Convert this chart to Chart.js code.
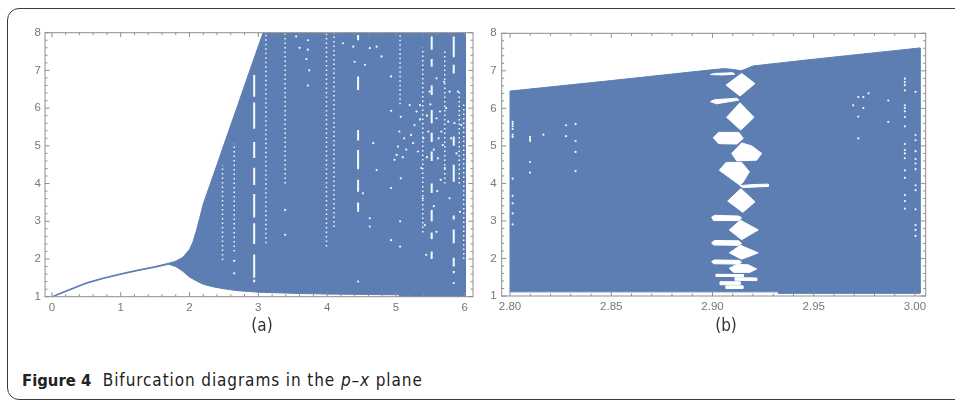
<!DOCTYPE html>
<html><head><meta charset="utf-8">
<script src="https://cdn.jsdelivr.net/npm/chart.js@4.4.1/dist/chart.umd.min.js"></script>
<style>
html,body{margin:0;padding:0;background:#fff;width:955px;height:404px;overflow:hidden;}
#card{position:absolute;left:7px;top:8px;width:1000px;height:392px;border:1.5px solid #3c3c3c;border-radius:12px;box-sizing:border-box;}
.cv{position:absolute;top:0;}
.sub{position:absolute;top:325px;transform:translate(-50%,-50%);font-family:"DejaVu Sans Condensed","Liberation Sans",sans-serif;font-size:17px;color:#333;white-space:nowrap;}
#caption{position:absolute;left:22px;top:370px;font-family:"DejaVu Sans Condensed","Liberation Sans",sans-serif;font-size:17px;line-height:20px;color:#222;white-space:nowrap;letter-spacing:0.9px;}
#caption b{font-size:16.5px;letter-spacing:0;}
</style></head>
<body>
<div id="card"></div>
<div class="cv" style="left:0;"><canvas id="ca" width="480" height="340"></canvas></div>
<div class="cv" style="left:470px;"><canvas id="cb" width="485" height="340"></canvas></div>
<div class="sub" style="left:262px;">(a)</div>
<div class="sub" style="left:726px;">(b)</div>
<div id="caption"><b>Figure 4</b>&nbsp; Bifurcation diagrams in the <i>p</i>–<i>x</i> plane</div>
<script>
// ---------- tick values / labels ----------
const xTicksA = [0, 1, 2, 3, 4, 5, 6];
const xLabelsA = ['0', '1', '2', '3', '4', '5', '6'];
const xTicksB = [2.80, 2.85, 2.90, 2.95, 3.00];
const xLabelsB = ['2.80', '2.85', '2.90', '2.95', '3.00'];
const yTicks = [1, 2, 3, 4, 5, 6, 7, 8];
const yLabels = ['1', '2', '3', '4', '5', '6', '7', '8'];

// ---------- panel (a): envelope of the attractor (p, x) ----------
const upperA = [[0,1.00],[0.1,1.08],[0.25,1.19],[0.5,1.37],[0.75,1.50],[1.0,1.61],[1.25,1.71],[1.5,1.80],[1.7,1.89],[1.8,1.94],[1.9,2.04],[2.0,2.25],[2.05,2.45],[2.1,2.75],[2.15,3.10],[2.2,3.46],[2.3,3.98],[2.4,4.50],[2.5,5.03],[2.6,5.55],[2.7,6.07],[2.8,6.60],[2.9,7.12],[3.0,7.64],[3.07,8.0],[6.01,8.0]];
const lowerA = [[6.01,1.0],[5.05,1.0],[5.05,1.05],[4.0,1.07],[3.5,1.09],[3.0,1.12],[2.7,1.16],[2.5,1.21],[2.35,1.26],[2.2,1.33],[2.1,1.42],[2.0,1.52],[1.9,1.68],[1.8,1.80],[1.7,1.86],[1.5,1.78],[1.25,1.69],[1.0,1.59],[0.75,1.48],[0.5,1.35],[0.25,1.17],[0.1,1.06],[0,0.99]];
// white gaps: dotted columns [p, xLow, xHigh]
const dottedColsA = [[2.48,1.97,4.49],[2.65,2.2,5.07],[3.11,2.42,8.0],[3.39,4.0,8.0],[3.99,2.33,8.0],[4.10,2.85,8.0],[5.06,6.1,7.95],[5.39,2.7,7.6],[5.71,4.0,7.5],[5.92,4.0,6.5],[5.985,2.0,6.1]];
// white gaps: dash segments [p, xLow, xHigh]
const dashSegA = [
 [2.94,6.30,6.88],[2.94,5.45,6.15],[2.94,4.68,5.10],[2.94,3.96,4.42],[2.94,3.10,3.72],[2.94,2.40,2.95],[2.94,1.50,2.12],[2.94,1.38,1.45],
 [4.45,7.80,7.94],[4.45,6.48,6.84],[4.45,5.14,5.42],[4.45,4.38,4.89],[4.45,3.78,4.10],[4.45,3.25,3.50],
 [5.52,7.55,7.9],[5.52,7.1,7.3],[5.52,6.35,6.6],[5.52,5.6,5.95],[5.52,5.1,5.35],[5.52,4.6,4.85],[5.52,3.75,4.0],[5.52,3.0,3.3],[5.52,2.55,2.7],[5.52,2.0,2.2],
 [5.84,7.35,7.9],[5.84,6.92,7.15],[5.84,5.0,5.25],[5.84,4.05,4.5],[5.84,3.05,3.15],[5.84,2.42,2.78],[5.84,1.80,2.03],[5.84,1.62,1.68]
];
// isolated white points [p, x]
const dotsA = [[4.45,1.40],[5.84,1.36],[3.39,2.64],[3.39,3.3],[2.65,1.95],[2.65,1.62],[3.72,7.8],[3.72,7.55],[3.70,7.3],[3.74,7.0],[3.72,6.6],[3.6,7.6],[3.55,7.9],
 [4.23,7.72],[4.38,7.63],[4.40,7.23],[4.62,7.59],[4.72,7.63],[4.79,7.37],[4.55,7.15],[4.93,6.84],[4.93,5.93],[4.93,3.88],[4.93,2.50],
 [5.20,6.08],[5.22,5.29],[5.25,5.07],[5.27,5.55],[5.30,5.91],[5.32,4.85],[5.35,6.08],[5.37,4.41],[5.39,3.61],[5.42,2.90],[5.44,2.11],[5.47,5.38],[5.49,6.44],
 [5.59,6.79],[5.59,5.73],[5.61,4.67],[5.64,5.91],[5.66,5.38],[5.68,5.02],[5.71,4.41],[5.73,6.0],[5.76,5.64],[5.78,6.44],[5.78,3.61],[5.52,2.55],[5.59,2.72],
 [4.72,4.36],[4.67,5.07],[4.52,3.74],[4.62,3.08],[4.62,2.86],[5.90,6.44],[5.95,5.55],[5.93,3.25],
 [5.03,4.98],[5.01,4.76],[4.98,4.63],[5.05,5.38],[5.07,5.77],[5.07,4.14],[5.12,5.2],[5.15,4.9],[5.1,4.7],[5.06,3.0],[5.06,2.33],
 [5.45,5.8],[5.5,6.1],[5.55,4.9],[5.62,5.2],[5.35,5.7],[5.4,5.2],[5.45,4.7],[5.55,3.4],[5.6,3.8],[5.65,4.1],[5.7,6.7],[5.8,5.2],[5.85,5.6],[5.88,4.8]];

// ---------- panel (b): zoom p in [2.80, 3.00] ----------
const regionB = [[2.80,1.11],[2.80,6.46],[2.85,6.74],[2.90,7.03],[2.906,7.06],[2.911,7.03],[2.914,7.00],[2.917,7.06],[2.920,7.13],[2.95,7.31],[3.0025,7.61],[3.0025,1.07],[2.9325,1.07],[2.9325,1.11]];
const holesB = [
 [[2.899,6.90],[2.901,6.93],[2.910,6.95],[2.911,6.91],[2.905,6.89]],
 [[2.9144,6.93],[2.9210,6.66],[2.9136,6.33],[2.9067,6.62]],
 [[2.899,6.18],[2.901,6.23],[2.912,6.27],[2.913,6.22],[2.902,6.12]],
 [[2.9136,6.15],[2.9205,5.76],[2.9140,5.42],[2.9070,5.76]],
 [[2.9004,5.22],[2.9030,5.36],[2.9130,5.36],[2.9152,5.20],[2.9120,5.05],[2.9030,5.06]],
 [[2.9144,5.08],[2.9194,5.00],[2.9243,4.80],[2.9218,4.62],[2.9120,4.60],[2.9095,4.80]],
 [[2.9067,4.56],[2.9144,4.56],[2.9182,4.31],[2.9152,4.04],[2.9136,3.95],[2.9034,4.35]],
 [[2.9136,3.94],[2.9200,3.97],[2.9276,3.98],[2.9276,3.92],[2.9150,3.89]],
 [[2.9140,3.86],[2.9210,3.51],[2.9150,3.23],[2.9075,3.53]],
 [[2.8996,3.10],[2.9010,3.15],[2.9130,3.13],[2.9144,3.08],[2.9130,3.01],[2.9005,3.01]],
 [[2.9138,3.02],[2.9226,2.76],[2.9144,2.50],[2.9083,2.76]],
 [[2.8996,2.42],[2.9010,2.48],[2.9130,2.47],[2.9144,2.40],[2.9130,2.35],[2.9005,2.36]],
 [[2.9138,2.35],[2.9226,2.15],[2.9144,1.98],[2.9083,2.15]],
 [[2.8996,1.92],[2.9010,1.96],[2.9130,1.95],[2.9144,1.90],[2.9130,1.85],[2.9005,1.86]],
 [[2.9120,1.84],[2.9177,1.83],[2.9218,1.72],[2.9185,1.63],[2.9103,1.63],[2.9083,1.74]],
 [[2.9017,1.58],[2.9152,1.57],[2.9152,1.52],[2.9017,1.52]],
 [[2.9111,1.49],[2.9218,1.48],[2.9218,1.41],[2.9111,1.42]],
 [[2.9037,1.38],[2.9136,1.38],[2.9136,1.30],[2.9037,1.30]],
 [[2.9066,1.27],[2.9150,1.27],[2.9150,1.20],[2.9066,1.20]]
];
const dotsB = [[2.8013,5.64],[2.8013,5.58],[2.8013,5.52],[2.8013,5.45],[2.8013,5.30],[2.8013,5.24],[2.8013,4.13],[2.8013,3.67],[2.8013,3.47],[2.8013,3.20],[2.8013,2.91],
 [2.8099,5.24],[2.8099,5.18],[2.8099,5.13],[2.8099,4.57],[2.8099,4.29],[2.8165,5.30],[2.8277,5.55],[2.8277,5.26],[2.8324,5.58],[2.8324,5.13],[2.8324,4.84],[2.8324,4.33],
 [2.9695,6.08],[2.972,6.30],[2.972,5.78],[2.972,5.20],[2.9745,6.30],[2.9745,6.01],[2.9771,6.40],[2.9868,6.21],[2.9868,5.64],
 [2.995,6.79],[2.995,6.70],[2.995,6.62],[2.995,6.48],[2.995,6.08],[2.995,6.01],[2.995,5.92],[2.995,5.77],[2.995,5.52],[2.995,5.05],[2.995,4.89],[2.995,4.80],[2.995,4.67],[2.995,4.35],[2.995,4.15],[2.995,3.69],[2.995,3.53],[2.995,3.33],
 [3.0003,6.44],[3.0003,5.29],[3.0003,5.15],[3.0003,4.86],[3.0003,4.65],[3.0003,4.53],[3.0003,4.38],[3.0003,3.95],[3.0003,3.82],[3.0003,3.31],[3.0003,2.89],[3.0003,2.76],[3.0003,2.60]];

// ---------- styling ----------
const BLUE = 'rgb(92,126,179)';
const GAP = '#f6f8fb';
const pts = arr => arr.map(([x, y]) => ({x, y}));
const closed = arr => pts(arr.concat([arr[0]]));

const framePlugin = {
  id: 'frame',
  afterDatasetsDraw(chart, args, o) {
    const {ctx, chartArea: a, scales: {x, y}} = chart;
    ctx.save();
    ctx.strokeStyle = '#8e8e8e';
    ctx.lineWidth = 1;
    ctx.strokeRect(a.left, a.top, a.right - a.left, a.bottom - a.top);
    ctx.beginPath();
    const near = (list, v) => list.some(t => Math.abs(t - v) < 1e-6);
    const xs = x.ticks.map(t => t.value), ys = y.ticks.map(t => t.value);
    const hx = (v, len) => { const p = x.getPixelForValue(v); ctx.moveTo(p, a.bottom); ctx.lineTo(p, a.bottom - len); ctx.moveTo(p, a.top); ctx.lineTo(p, a.top + len); };
    const hy = (v, len) => { const p = y.getPixelForValue(v); ctx.moveTo(a.left, p); ctx.lineTo(a.left + len, p); ctx.moveTo(a.right, p); ctx.lineTo(a.right - len, p); };
    xs.forEach(v => hx(v, 4.5));
    ys.forEach(v => hy(v, 4.5));
    for (let k = Math.ceil(x.min / o.xMinor - 1e-9); k * o.xMinor <= x.max + 1e-9; k++) {
      const v = k * o.xMinor; if (!near(xs, v)) hx(v, 2.5);
    }
    for (let k = Math.ceil(y.min / o.yMinor - 1e-9); k * o.yMinor <= y.max + 1e-9; k++) {
      const v = k * o.yMinor; if (!near(ys, v)) hy(v, 2.5);
    }
    ctx.stroke();
    ctx.restore();
  }
};

const tickFont = {family: '"Liberation Sans", Arial, sans-serif', size: 11.5};
function scales(xmin, xmax, xt, xl, yw, xh, ypad) {
  return {
    x: {type: 'linear', min: xmin, max: xmax,
        afterBuildTicks: s => { s.ticks = xt.map(v => ({value: v})); },
        afterFit: s => { s.height = xh; },
        grid: {display: false, drawTicks: false, tickLength: 0}, border: {display: false},
        ticks: {autoSkip: false, maxRotation: 0, padding: 4, color: '#777777', font: tickFont,
                callback: (v, i) => xl[i]}},
    y: {type: 'linear', min: 1, max: 8,
        afterBuildTicks: s => { s.ticks = yTicks.map(v => ({value: v})); },
        afterFit: s => { s.width = yw; },
        grid: {display: false, drawTicks: false, tickLength: 0}, border: {display: false},
        ticks: {padding: ypad, color: '#777777', font: tickFont, callback: (v, i) => yLabels[i]}}
  };
}
const lineDs = (data, color, width, dash) => ({data: pts(data), showLine: true, borderColor: color, borderWidth: width, borderDash: dash || [], pointRadius: 0, fill: false, borderCapStyle: 'butt'});
const dotDs = (data, r) => ({data: pts(data), showLine: false, pointRadius: r, pointBackgroundColor: GAP, pointBorderWidth: 0});
const polyDs = (data, color) => ({data: closed(data), showLine: true, fill: 'shape', backgroundColor: color, borderColor: color, borderWidth: 1, pointRadius: 0});

// ---- chart (a)
const dsA = [];
dsA.push(dotDs(dotsA, 1.1));
dashSegA.forEach(([p, lo, hi]) => dsA.push(lineDs([[p, lo], [p, hi]], GAP, 2)));
dottedColsA.forEach(([p, lo, hi]) => dsA.push(lineDs([[p, lo], [p, hi]], GAP, 1.5, [1.5, 3])));
dsA.push(polyDs(upperA.concat(lowerA), BLUE));

new Chart(document.getElementById('ca'), {
  type: 'scatter',
  data: {datasets: dsA},
  options: {
    responsive: false, animation: false, events: [],
    layout: {padding: {top: 32.7, right: 7, left: 0, bottom: 0}},
    plugins: {legend: {display: false}, tooltip: {enabled: false}, frame: {xMinor: 0.2, yMinor: 0.2}},
    scales: scales(-0.1, 6.12, xTicksA, xLabelsA, 45, 340 - 296.7, 4)
  },
  plugins: [framePlugin]
});

// ---- chart (b)
const dsB = [];
dsB.push(dotDs(dotsB, 1.1));
holesB.forEach(h => dsB.push(polyDs(h, '#ffffff')));
dsB.push(polyDs(regionB, BLUE));

new Chart(document.getElementById('cb'), {
  type: 'scatter',
  data: {datasets: dsB},
  options: {
    responsive: false, animation: false, events: [],
    layout: {padding: {top: 33.3, right: 955 - 925.7, left: 0, bottom: 0}},
    plugins: {legend: {display: false}, tooltip: {enabled: false}, frame: {xMinor: 0.01, yMinor: 0.2}},
    scales: scales(2.7959, 3.0053, xTicksB, xLabelsB, 501.7 - 470, 340 - 296, 5)
  },
  plugins: [framePlugin]
});
</script>
</body></html>
